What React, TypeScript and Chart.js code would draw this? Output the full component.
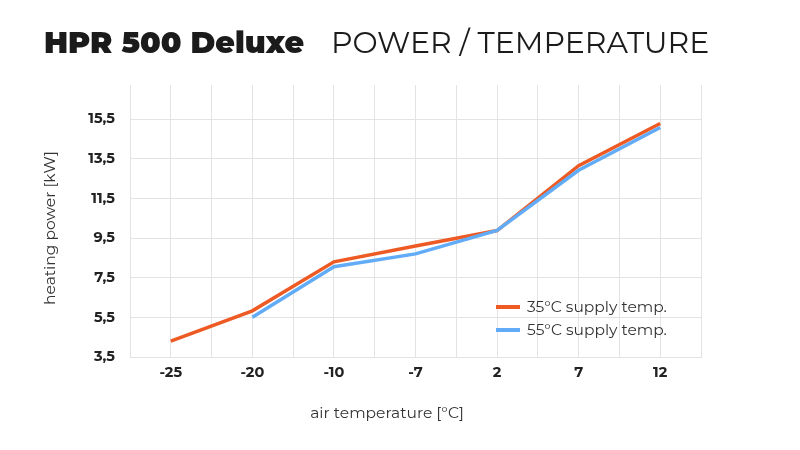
import React, { useEffect, useRef } from "react";
import { Chart, registerables } from "chart.js";

Chart.register(...registerables);

const titleBold = "HPR 500 Deluxe";
const titleLight = "POWER / TEMPERATURE";
const categories = ["-25", "-20", "-10", "-7", "2", "7", "12"];
const yTicks = [3.5, 5.5, 7.5, 9.5, 11.5, 13.5, 15.5];
const series35Label = "35°C supply temp.";
const series55Label = "55°C supply temp.";
const series35 = [4.3, 5.83, 8.3, 9.1, 9.88, 13.15, 15.28];
const series55 = [null, 5.5, 8.05, 8.7, 9.88, 12.92, 15.08];
const yTitle = "heating power [kW]";
const xTitle = "air temperature [°C]";

const ORANGE = "#ee5a24";
const BLUE = "#62acf7";
const GRID = "#e3e3e3";
const FONT = "Montserrat, Inter, 'Open Sans', sans-serif";

export default function App() {
  const ref = useRef<HTMLCanvasElement | null>(null);
  useEffect(() => {
    if (!ref.current) return;
    const toPts = (arr: (number | null)[]) =>
      arr.map((v, i) => ({ x: i, y: v as number })).filter((p) => p.y !== null);

    const xTickVals: number[] = [];
    for (let i = -1; i <= categories.length * 2 - 1; i++) xTickVals.push(i / 2);

    const textPlugin = {
      id: "textPlugin",
      afterDraw(chart: any) {
        const ctx = chart.ctx;
        ctx.save();
        ctx.fillStyle = "#1b1b1b";
        ctx.textBaseline = "alphabetic";
        ctx.textAlign = "left";
        ctx.font = "900 30px " + FONT;
        ctx.fillText(titleBold, 44, 53);
        ctx.font = "400 30px " + FONT;
        ctx.fillText(titleLight, 331, 53);

        ctx.fillStyle = "#333";
        ctx.font = "400 15.5px " + FONT;
        ctx.textAlign = "center";
        ctx.textBaseline = "middle";
        ctx.fillText(xTitle, 387, 413);
        ctx.translate(50, 228);
        ctx.rotate(-Math.PI / 2);
        ctx.fillText(yTitle, 0, 0);
        ctx.restore();
      },
    };

    const legendPlugin = {
      id: "legendPlugin",
      afterDatasetsDraw(chart: any) {
        const ctx = chart.ctx;
        const items = [
          { label: series35Label, color: ORANGE },
          { label: series55Label, color: BLUE },
        ];
        ctx.save();
        items.forEach((it, i) => {
          const y = 307 + i * 23;
          ctx.strokeStyle = it.color;
          ctx.lineWidth = 4;
          ctx.beginPath();
          ctx.moveTo(496, y);
          ctx.lineTo(520, y);
          ctx.stroke();
          ctx.fillStyle = "#333";
          ctx.font = "400 15.5px " + FONT;
          ctx.textBaseline = "middle";
          ctx.fillText(it.label, 527, y);
        });
        ctx.restore();
      },
    };

    const chart = new Chart(ref.current, {
      type: "line",
      data: {
        datasets: [
          {
            label: series55Label,
            data: toPts(series55),
            borderColor: BLUE,
            backgroundColor: BLUE,
            borderWidth: 3.5,
            pointRadius: 0,
            tension: 0,
          },
          {
            label: series35Label,
            data: toPts(series35),
            borderColor: ORANGE,
            backgroundColor: ORANGE,
            borderWidth: 3.5,
            pointRadius: 0,
            tension: 0,
          },
        ],
      },
      options: {
        animation: false,
        responsive: false,
        events: [],
        layout: { padding: { top: 85, right: 99, left: 42, bottom: 28 } },
        plugins: { legend: { display: false }, tooltip: { enabled: false }, title: { display: false } },
        scales: {
          x: {
            type: "linear",
            min: -0.5,
            max: categories.length - 0.5,
            afterFit(scale: any) {
              scale.height = 65;
            },
            afterBuildTicks(scale: any) {
              scale.ticks = xTickVals.map((v) => ({ value: v }));
            },
            grid: { color: GRID, drawTicks: false, lineWidth: 1 },
            border: { color: GRID },
            ticks: {
              padding: 7,
              autoSkip: false,
              maxRotation: 0,
              color: "#222",
              font: { family: FONT, size: 14.5, weight: "bold" },
              callback: (v: any) => (Number.isInteger(v) ? categories[v] : ""),
            },
          },
          y: {
            type: "linear",
            min: 3.5,
            max: 17.22,
            afterFit(scale: any) {
              scale.width = 88;
            },
            afterBuildTicks(scale: any) {
              scale.ticks = yTicks.map((v) => ({ value: v }));
            },
            grid: { color: GRID, drawTicks: false, lineWidth: 1 },
            border: { color: GRID },
            ticks: {
              padding: 15,
              color: "#222",
              font: { family: FONT, size: 14.5, weight: "bold" },
              callback: (v: any) => Number(v).toFixed(1).replace(".", ","),
            },
          },
        },
      },
      plugins: [textPlugin, legendPlugin],
    } as any);
    return () => chart.destroy();
  }, []);

  return (
    <div style={{ position: "fixed", left: 0, top: 0, width: 800, height: 450, background: "#fff" }}>
      <canvas ref={ref} width={800} height={450} style={{ width: 800, height: 450 }} />
    </div>
  );
}
